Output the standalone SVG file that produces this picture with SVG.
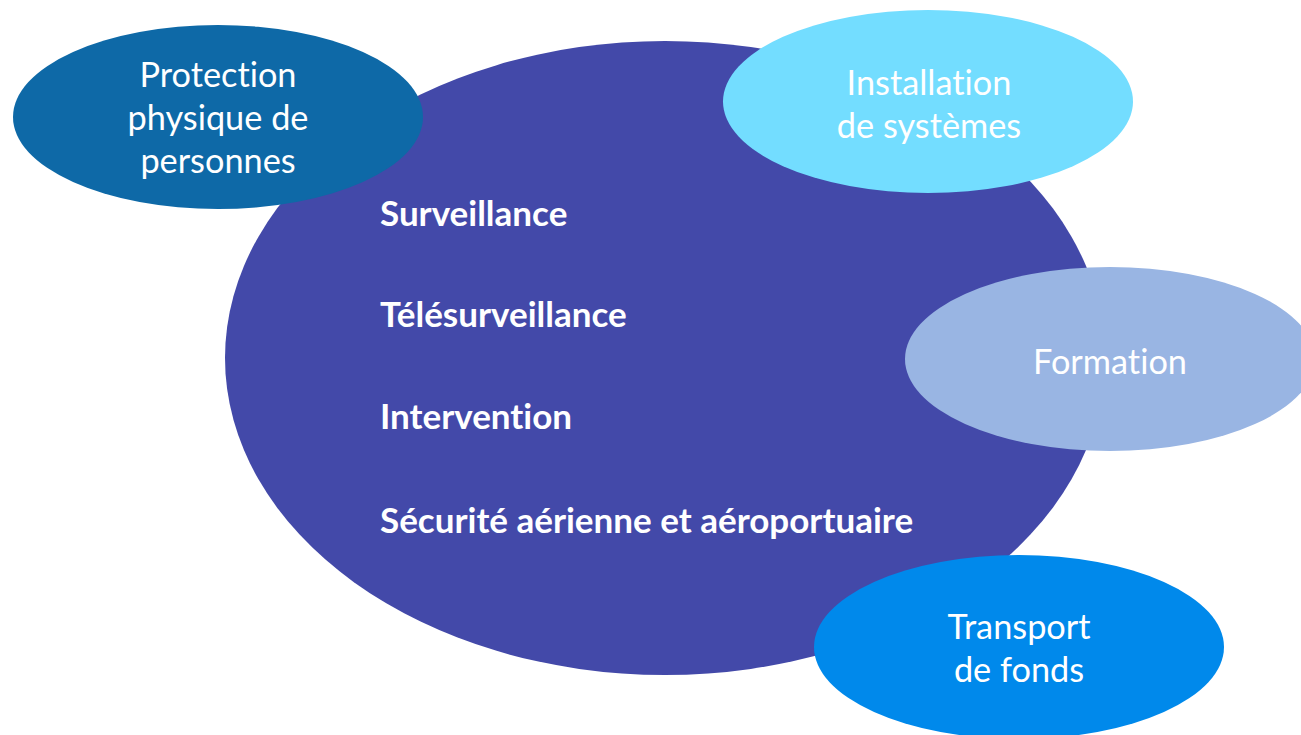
<svg xmlns="http://www.w3.org/2000/svg" width="1301" height="735" viewBox="0 0 1301 735">
<style>
text{font-variant-ligatures:none;font-feature-settings:"liga" 0}
.lbl{font-family:Lato,"Open Sans","Liberation Sans",sans-serif;fill:#ffffff;font-size:34.3px;text-anchor:middle}
.item{font-family:Lato,"Open Sans","Liberation Sans",sans-serif;fill:#ffffff;font-size:35px;font-weight:bold}
</style>
<rect width="1301" height="735" fill="#ffffff"/>
<g id="main">
<ellipse cx="665" cy="358" rx="440" ry="317" fill="#4349A9"/>
<text class="item" x="380" y="226">Surveillance</text>
<text class="item" x="380" y="327">Télésurveillance</text>
<text class="item" x="380" y="429">Intervention</text>
<text class="item" x="380" y="533">Sécurité aérienne et aéroportuaire</text>
</g>
<g id="protection">
<ellipse cx="218" cy="117" rx="205" ry="92" fill="#0E69A7"/>
<text class="lbl" x="218" y="87">Protection</text>
<text class="lbl" x="218" y="130">physique de</text>
<text class="lbl" x="218" y="173">personnes</text>
</g>
<g id="installation">
<ellipse cx="928" cy="101.5" rx="205" ry="91.5" fill="#73DDFF"/>
<text class="lbl" x="929" y="95">Installation</text>
<text class="lbl" x="929" y="138">de systèmes</text>
</g>
<g id="formation">
<ellipse cx="1110" cy="359" rx="205" ry="92" fill="#99B5E3"/>
<text class="lbl" x="1110" y="374">Formation</text>
</g>
<g id="transport">
<ellipse cx="1019" cy="647" rx="205" ry="92" fill="#0089EB"/>
<text class="lbl" x="1019" y="639">Transport</text>
<text class="lbl" x="1019" y="682">de fonds</text>
</g>
<g id="connectors"/>
</svg>
